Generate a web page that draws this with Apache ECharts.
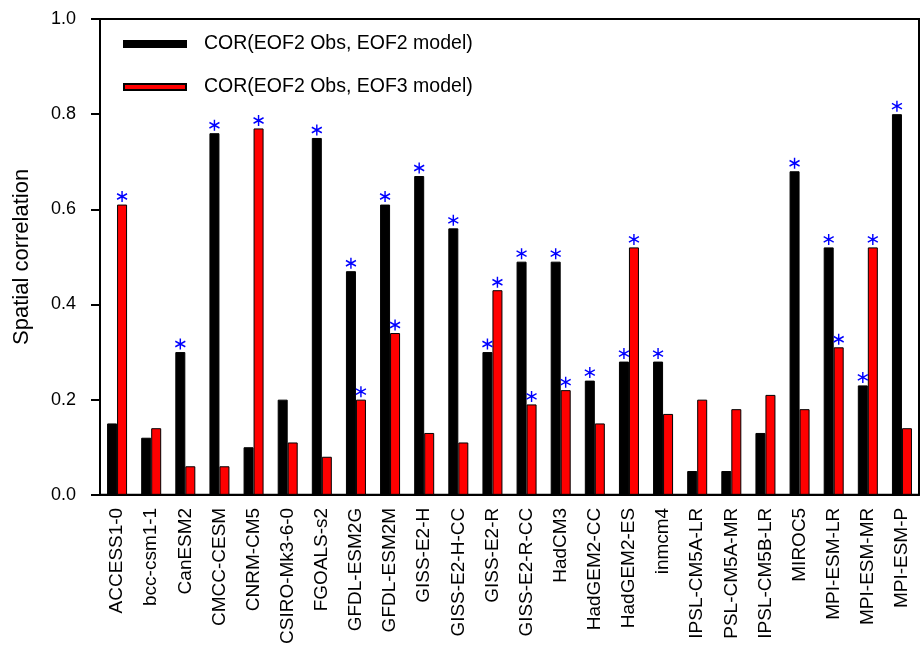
<!DOCTYPE html>
<html>
<head>
<meta charset="utf-8">
<script src="https://cdn.jsdelivr.net/npm/echarts@6/dist/echarts.min.js"></script>
<style>
  html, body { margin: 0; padding: 0; background: #fff; }
  #chart { width: 922px; height: 647px; }
</style>
</head>
<body>
<div id="chart"></div>
<script>
// CMIP5 models
const models = [
  'ACCESS1-0', 'bcc-csm1-1', 'CanESM2', 'CMCC-CESM', 'CNRM-CM5', 'CSIRO-Mk3-6-0',
  'FGOALS-s2', 'GFDL-ESM2G', 'GFDL-ESM2M', 'GISS-E2-H', 'GISS-E2-H-CC', 'GISS-E2-R',
  'GISS-E2-R-CC', 'HadCM3', 'HadGEM2-CC', 'HadGEM2-ES', 'inmcm4', 'IPSL-CM5A-LR',
  'PSL-CM5A-MR', 'IPSL-CM5B-LR', 'MIROC5', 'MPI-ESM-LR', 'MPI-ESM-MR', 'MPI-ESM-P'
];

// Spatial correlation of observed EOF2 with each model's EOF2
const corEof2 = [
  0.15, 0.12, 0.30, 0.76, 0.10, 0.20,
  0.75, 0.47, 0.61, 0.67, 0.56, 0.30,
  0.49, 0.49, 0.24, 0.28, 0.28, 0.05,
  0.05, 0.13, 0.68, 0.52, 0.23, 0.80
];

// Spatial correlation of observed EOF2 with each model's EOF3
const corEof3 = [
  0.61, 0.14, 0.06, 0.06, 0.77, 0.11,
  0.08, 0.20, 0.34, 0.13, 0.11, 0.43,
  0.19, 0.22, 0.15, 0.52, 0.17, 0.20,
  0.18, 0.21, 0.18, 0.31, 0.52, 0.14
];

// Significance flags (1 = significant, marked with an asterisk)
const sigEof2 = [
  0, 0, 1, 1, 0, 0,
  1, 1, 1, 1, 1, 1,
  1, 1, 1, 1, 1, 0,
  0, 0, 1, 1, 1, 1
];
const sigEof3 = [
  1, 0, 0, 0, 1, 0,
  0, 1, 1, 0, 0, 1,
  1, 1, 0, 1, 0, 0,
  0, 0, 0, 1, 1, 0
];

const yTicks = [0.0, 0.2, 0.4, 0.6, 0.8, 1.0];

const seriesNames = ['COR(EOF2 Obs, EOF2 model)', 'COR(EOF2 Obs, EOF3 model)'];

const FONT = '"Liberation Sans", Arial, Helvetica, sans-serif';
const BAR_W = 10;

// six-armed asterisk drawn as strokes
const STAR = 'path://M5,0L5,10M0.67,2.5L9.33,7.5M0.67,7.5L9.33,2.5';

function starData(values, flags) {
  return values.map((v, i) => (flags[i] ? v : null));
}

function starSeries(values, flags, dx) {
  return {
    type: 'scatter',
    data: starData(values, flags),
    symbol: STAR,
    symbolSize: [10, 11],
    symbolOffset: [dx, -8],
    itemStyle: { color: 'none', borderColor: '#0000ff', borderWidth: 1.5, opacity: 1 },
    silent: true,
    z: 5
  };
}

const chart = echarts.init(document.getElementById('chart'), null, { renderer: 'canvas' });

chart.setOption({
  animation: false,
  backgroundColor: '#ffffff',
  textStyle: { fontFamily: FONT },
  grid: {
    left: 100, right: 3, top: 19, bottom: 151,
    show: true, borderColor: '#000', borderWidth: 2, backgroundColor: 'transparent'
  },
  legend: {
    data: seriesNames,
    orient: 'vertical',
    left: 123,
    top: 33,
    padding: 0,
    itemWidth: 62,
    itemHeight: 6,
    itemGap: 21,
    icon: 'rect',
    selectedMode: false,
    textStyle: {
      fontFamily: FONT, fontSize: 19.5, color: '#000', lineHeight: 22,
      padding: [0, 0, 0, 13]
    }
  },
  xAxis: {
    type: 'category',
    data: models,
    boundaryGap: true,
    axisLine: { lineStyle: { color: '#000', width: 2 } },
    axisTick: { alignWithLabel: true, length: 8, lineStyle: { color: '#000', width: 2 } },
    axisLabel: {
      rotate: 90, interval: 0, margin: 13,
      fontFamily: FONT, fontSize: 19, color: '#000'
    },
    splitLine: { show: false }
  },
  yAxis: {
    type: 'value',
    min: yTicks[0],
    max: yTicks[yTicks.length - 1],
    interval: 0.2,
    name: 'Spatial correlation',
    nameLocation: 'middle',
    nameGap: 67,
    nameTextStyle: { fontFamily: FONT, fontSize: 22, color: '#000' },
    axisLine: { show: true, lineStyle: { color: '#000', width: 2 } },
    axisTick: { show: true, length: 9, lineStyle: { color: '#000', width: 2 } },
    axisLabel: {
      margin: 24, fontFamily: FONT, fontSize: 18, color: '#000',
      formatter: v => v.toFixed(1)
    },
    splitLine: { show: false }
  },
  series: [
    {
      name: seriesNames[0],
      type: 'bar',
      data: corEof2,
      barWidth: BAR_W,
      barGap: '0%',
      itemStyle: { color: '#000000', borderColor: '#000', borderWidth: 1 }
    },
    {
      name: seriesNames[1],
      type: 'bar',
      data: corEof3,
      barWidth: BAR_W,
      barGap: '0%',
      itemStyle: { color: '#ff0000', borderColor: '#000', borderWidth: 1 }
    },
    starSeries(corEof2, sigEof2, -BAR_W / 2),
    starSeries(corEof3, sigEof3, BAR_W / 2)
  ]
});
</script>
</body>
</html>
